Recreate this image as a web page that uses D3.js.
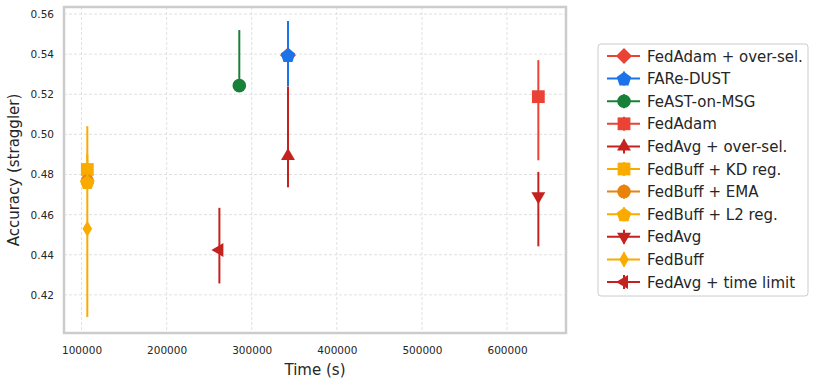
<!DOCTYPE html>
<html>
<head>
<meta charset="utf-8">
<script src="https://cdn.jsdelivr.net/npm/d3@7"></script>
<style>
  body { margin: 0; background: #fff; }
  text { font-family: "DejaVu Sans", sans-serif; }
</style>
</head>
<body>
<div id="chart"></div>
<script>
// Data
const methods = ["FedAdam + over-sel.", "FARe-DUST", "FeAST-on-MSG", "FedAdam", "FedAvg + over-sel.",
    "FedBuff + KD reg.", "FedBuff + EMA", "FedBuff + L2 reg.", "FedAvg", "FedBuff", "FedAvg + time limit"];
const times = [342600, 342600, 285400, 636800, 342600, 106800, 106800, 106800, 636800, 106800, 262000];
const accs = [0.5395, 0.5395, 0.5243, 0.5188, 0.4892, 0.4825, 0.4767, 0.4762, 0.4692, 0.4530, 0.4424];
const errLow = [0.5240, 0.5240, 0.5243, 0.4871, 0.4736, 0.4760, 0.4740, 0.4740, 0.4442, 0.4090, 0.4257];
const errHigh = [0.5565, 0.5565, 0.5520, 0.5370, 0.5238, 0.4900, 0.4800, 0.4800, 0.4813, 0.5041, 0.4634];
const colors = ["#ea4335", "#1a73e8", "#188038", "#ea4335", "#c5221f",
    "#f9ab00", "#e8830c", "#f9ab00", "#c5221f", "#f9ab00", "#c5221f"];
const markers = ["diamond", "pentagon", "circle", "square", "triUp",
    "square", "circle", "pentagon", "triDown", "thinDiamond", "triLeft"];
const xTicks = [100000, 200000, 300000, 400000, 500000, 600000];
const yTicks = [0.42, 0.44, 0.46, 0.48, 0.50, 0.52, 0.54, 0.56];

const W = 816, H = 385;
const margin = { top: 7, right: 250, bottom: 52, left: 64 };
const width = 566 - margin.left;
const height = 333 - margin.top;

var svg = d3.select("#chart").append("svg")
    .attr("width", W)
    .attr("height", H);

var g = svg.append("g")
    .attr("transform", `translate(${margin.left}, ${margin.top})`);

var x = d3.scaleLinear().domain([79400, 669300]).range([0, width]);
var y = d3.scaleLinear().domain([0.401, 0.5635]).range([height, 0]);

// Gridlines
g.append("g")
    .selectAll("line")
    .data(xTicks)
    .join("line")
    .attr("x1", d => x(d)).attr("x2", d => x(d))
    .attr("y1", 0).attr("y2", height)
    .attr("stroke", "#d9d9d9").attr("stroke-width", 0.8)
    .attr("stroke-dasharray", "3,2");

g.append("g")
    .selectAll("line")
    .data(yTicks)
    .join("line")
    .attr("y1", d => y(d)).attr("y2", d => y(d))
    .attr("x1", 0).attr("x2", width)
    .attr("stroke", "#d9d9d9").attr("stroke-width", 0.8)
    .attr("stroke-dasharray", "3,2");

// Axes (labels only, no tick marks)
var xAxis = g.append("g")
    .attr("transform", `translate(0, ${height})`)
    .call(d3.axisBottom(x).tickValues(xTicks).tickSize(0).tickPadding(14).tickFormat(d3.format("d")));
var yAxis = g.append("g")
    .call(d3.axisLeft(y).tickValues(yTicks).tickSize(0).tickPadding(10).tickFormat(d3.format(".2f")));
[xAxis, yAxis].forEach(a => {
    a.select(".domain").remove();
    a.selectAll("text").attr("font-size", 10.5).attr("fill", "#262626")
        .style("font-family", "'DejaVu Sans', sans-serif");
});

// Frame
g.append("rect")
    .attr("width", width).attr("height", height)
    .attr("fill", "none").attr("stroke", "#cccccc").attr("stroke-width", 2.5);

// Axis titles
svg.append("text")
    .attr("x", margin.left + width / 2).attr("y", 375)
    .attr("text-anchor", "middle").attr("font-size", 15).attr("fill", "#262626")
    .text("Time (s)");
svg.append("text")
    .attr("transform", `translate(19, ${margin.top + height / 2}) rotate(-90)`)
    .attr("text-anchor", "middle").attr("font-size", 15).attr("fill", "#262626")
    .text("Accuracy (straggler)");

// Marker shapes
function markerPath(type, s) {
    switch (type) {
        case "diamond": return `M0,${-s}L${s},0L0,${s}L${-s},0Z`;
        case "thinDiamond": return `M0,${-s}L${s * 0.6},0L0,${s}L${-s * 0.6},0Z`;
        case "square": return `M${-s * 0.8},${-s * 0.8}h${s * 1.6}v${s * 1.6}h${-s * 1.6}Z`;
        case "circle": return d3.symbol(d3.symbolCircle, Math.PI * (s * 0.85) * (s * 0.85))();
        case "pentagon": {
            var pts = d3.range(5).map(i => {
                var a = -Math.PI / 2 + i * 2 * Math.PI / 5;
                return [s * 0.95 * Math.cos(a), s * 0.95 * Math.sin(a) + 0.8];
            });
            return "M" + pts.map(p => p.join(",")).join("L") + "Z";
        }
        case "triUp": return `M0,${-s}L${s * 0.87},${s * 0.5}L${-s * 0.87},${s * 0.5}Z`;
        case "triDown": return `M0,${s}L${s * 0.87},${-s * 0.5}L${-s * 0.87},${-s * 0.5}Z`;
        case "triLeft": return `M${-s},0L${s * 0.5},${s * 0.87}L${s * 0.5},${-s * 0.87}Z`;
    }
}

// Error bars and markers, drawn in series order
methods.forEach((m, i) => {
    var pg = g.append("g");
    pg.append("line")
        .attr("x1", x(times[i])).attr("x2", x(times[i]))
        .attr("y1", y(errLow[i])).attr("y2", y(errHigh[i]))
        .attr("stroke", colors[i]).attr("stroke-width", 2);
    pg.append("path")
        .attr("transform", `translate(${x(times[i])}, ${y(accs[i])})`)
        .attr("d", markerPath(markers[i], 8))
        .attr("fill", colors[i]);
});

// Legend
var legend = svg.append("g").attr("transform", "translate(598, 44)");
legend.append("rect")
    .attr("width", 210).attr("height", 252).attr("rx", 3)
    .attr("fill", "#fff").attr("stroke", "#cccccc").attr("stroke-width", 1);

methods.forEach((m, i) => {
    var ly = 12 + i * 22.6;
    var row = legend.append("g").attr("transform", `translate(0, ${ly})`);
    row.append("line")
        .attr("x1", 9).attr("x2", 42)
        .attr("stroke", colors[i]).attr("stroke-width", 2);
    row.append("line")
        .attr("x1", 26).attr("x2", 26).attr("y1", -7).attr("y2", 7)
        .attr("stroke", colors[i]).attr("stroke-width", 2);
    row.append("path")
        .attr("transform", "translate(26, 0)")
        .attr("d", markerPath(markers[i], 8))
        .attr("fill", colors[i]);
    row.append("text")
        .attr("x", 49).attr("y", 5.5)
        .attr("font-size", 15).attr("fill", "#262626")
        .text(m);
});
</script>
</body>
</html>
